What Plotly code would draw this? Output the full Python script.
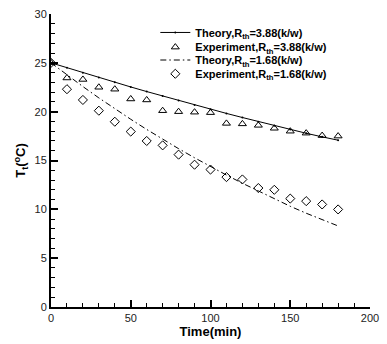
import plotly.graph_objects as go

# ---- data ----
time_theory = [0, 10, 20, 30, 40, 50, 60, 70, 80, 90, 100, 110, 120, 130, 140, 150, 160, 170, 180]
theory_388 = [25.0, 24.49, 23.99, 23.49, 23.01, 22.53, 22.06, 21.60, 21.14, 20.69, 20.25,
              19.82, 19.40, 18.98, 18.57, 18.17, 17.79, 17.42, 17.08]
theory_168 = [25.0, 23.76, 22.57, 21.41, 20.30, 19.22, 18.18, 17.18, 16.21, 15.28, 14.38,
              13.51, 12.67, 11.86, 11.07, 10.31, 9.60, 8.93, 8.30]

time_exp = [0, 10, 20, 30, 40, 50, 60, 70, 80, 90, 100, 110, 120, 130, 140, 150, 160, 170, 180]
exp_388 = [25.0, 23.45, 23.3, 22.5, 22.3, 21.3, 21.2, 20.1, 20.0, 19.95, 19.9,
           18.8, 18.75, 18.6, 18.3, 18.0, 17.8, 17.55, 17.5]
exp_168 = [25.0, 22.3, 21.2, 20.1, 18.97, 17.96, 17.0, 16.55, 15.6, 14.57, 14.07,
           13.3, 13.06, 12.18, 12.0, 11.1, 10.84, 10.5, 9.99]

names = [
    "<b>Theory,R<sub>th</sub>=3.88(k/w)</b>",
    "<b>Experiment,R<sub>th</sub>=3.88(k/w)</b>",
    "<b>Theory,R<sub>th</sub>=1.68(k/w)</b>",
    "<b>Experiment,R<sub>th</sub>=1.68(k/w)</b>",
]

x_ticks = [0, 50, 100, 150, 200]
y_ticks = [0, 5, 10, 15, 20, 25, 30]

FONT = "Liberation Sans, Arial, sans-serif"

fig = go.Figure()
fig.add_trace(go.Scatter(x=time_theory, y=theory_388, mode="lines+markers", name=names[0],
                         line=dict(color="black", width=1),
                         marker=dict(size=2, color="black"), legend="legend"))
fig.add_trace(go.Scatter(x=time_exp, y=exp_388, mode="markers", name=names[1],
                         marker=dict(symbol="triangle-up-open", size=7, color="black",
                                     line=dict(width=1, color="black")), legend="legend2"))
fig.add_trace(go.Scatter(x=time_theory, y=theory_168, mode="lines", name=names[2],
                         line=dict(color="black", width=1, dash="6px,3px,1.5px,3px"),
                         legend="legend3"))
fig.add_trace(go.Scatter(x=time_exp, y=exp_168, mode="markers", name=names[3],
                         marker=dict(symbol="diamond-open", size=7, color="black",
                                     line=dict(width=1, color="black")), legend="legend4"))

leg_common = dict(x=0.327, xanchor="left", yanchor="middle", bgcolor="rgba(0,0,0,0)",
                  borderwidth=0, font=dict(family=FONT, size=11, color="black"))
leg_y = [0.937, 0.887, 0.843, 0.796]

fig.update_layout(
    width=387, height=344,
    margin=dict(l=51, r=8, t=14, b=32),
    paper_bgcolor="white", plot_bgcolor="white",
    showlegend=True,
    legend=dict(y=leg_y[0], **leg_common),
    legend2=dict(y=leg_y[1], **leg_common),
    legend3=dict(y=leg_y[2], **leg_common),
    legend4=dict(y=leg_y[3], **leg_common),
    font=dict(family=FONT, size=11, color="black"),
)

fig.update_xaxes(range=[0, 200], tickvals=x_ticks, ticks="inside", ticklen=7, tickwidth=1.5,
                 tickcolor="black", showline=True, linecolor="black", linewidth=2,
                 showgrid=False, zeroline=False, ticklabeloverflow="allow",
                 minor=dict(dtick=10, ticks="inside", ticklen=4, tickwidth=1, tickcolor="black",
                            showgrid=False),
                 tickfont=dict(family=FONT, size=11, color="#222"),
                 title=dict(text="<b>Time(min)</b>", font=dict(family=FONT, size=13, color="black"),
                            standoff=3))
fig.update_yaxes(range=[0, 30], tickvals=y_ticks, ticks="inside", ticklen=7, tickwidth=1.5,
                 tickcolor="black", showline=True, linecolor="black", linewidth=2,
                 showgrid=False, zeroline=False, ticklabeloverflow="allow",
                 minor=dict(dtick=1, ticks="inside", ticklen=4, tickwidth=1, tickcolor="black",
                            showgrid=False),
                 tickfont=dict(family=FONT, size=11, color="#222"),
                 title=dict(text="<b>T<sub>t</sub>(<sup>o</sup>C)</b>",
                            font=dict(family=FONT, size=13, color="black"), standoff=6))

fig.write_html("out.html", config={"displayModeBar": False},
               post_script="document.body.style.margin='0';")
